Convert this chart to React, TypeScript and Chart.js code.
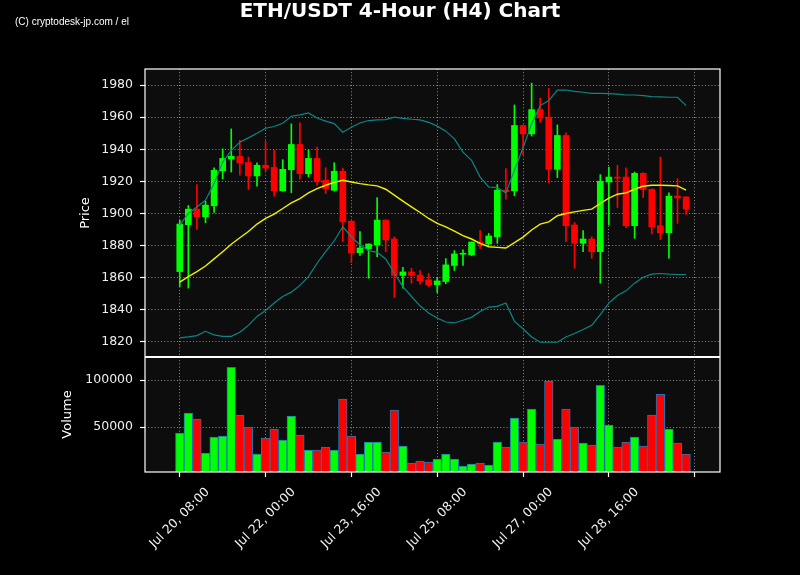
import { useEffect, useRef } from 'react';
import { Chart, registerables } from 'chart.js';

Chart.register(...registerables);

// ---- Data (4-hour candles, Jul 20 08:00 → Jul 30 04:00) ----
const opens = [
  1863.8, 1893.0, 1902.7, 1897.9, 1904.8, 1926.5, 1933.9, 1935.6, 1931.8, 1923.4,
  1930.0, 1928.7, 1914.1, 1927.3, 1943.0, 1924.8, 1934.3, 1920.7, 1914.5, 1926.3,
  1895.2, 1875.6, 1878.1, 1880.4, 1895.9, 1884.1, 1861.4, 1863.6, 1861.6, 1858.7,
  1855.6, 1857.6, 1867.6, 1874.6, 1874.2, 1882.2, 1881.0, 1885.5, 1914.5, 1914.1,
  1954.8, 1949.6, 1964.7, 1960.0, 1927.5, 1948.6, 1892.8, 1881.4, 1884.1, 1876.2,
  1919.6, 1922.5, 1922.7, 1892.4, 1925.0, 1915.1, 1892.4, 1888.0, 1910.8, 1910.3,
];
const highs = [
  1895.9, 1905.0, 1918.0, 1907.7, 1928.5, 1940.3, 1952.7, 1945.5, 1935.1, 1931.6,
  1944.9, 1939.3, 1933.5, 1955.8, 1956.4, 1939.7, 1941.3, 1928.5, 1931.6, 1928.3,
  1895.5, 1888.8, 1881.0, 1909.9, 1896.0, 1885.5, 1866.5, 1865.9, 1864.5, 1862.6,
  1860.3, 1871.9, 1876.9, 1877.3, 1882.3, 1889.3, 1887.6, 1918.0, 1927.9, 1967.6,
  1955.0, 1981.2, 1971.9, 1977.9, 1955.2, 1950.2, 1894.4, 1889.3, 1885.5, 1924.2,
  1928.9, 1930.0, 1928.5, 1925.8, 1925.4, 1915.3, 1935.1, 1912.8, 1921.7, 1910.5,
];
const lows = [
  1854.5, 1853.5, 1890.1, 1894.2, 1900.6, 1921.7, 1925.8, 1923.8, 1914.9, 1917.0,
  1926.3, 1910.8, 1913.8, 1913.0, 1921.3, 1922.7, 1917.6, 1912.4, 1913.9, 1882.4,
  1869.4, 1873.8, 1859.7, 1873.1, 1876.2, 1847.7, 1853.5, 1856.6, 1856.0, 1854.5,
  1850.8, 1856.2, 1864.5, 1867.6, 1873.8, 1878.3, 1880.2, 1881.4, 1908.9, 1911.0,
  1936.6, 1948.2, 1956.8, 1919.0, 1922.3, 1882.4, 1865.9, 1876.2, 1872.1, 1856.6,
  1892.8, 1903.7, 1891.1, 1884.5, 1909.9, 1887.2, 1883.9, 1872.1, 1893.8, 1899.4,
];
const closes = [
  1893.4, 1902.7, 1897.9, 1905.2, 1926.9, 1934.3, 1935.6, 1931.4, 1923.4, 1930.0,
  1928.3, 1914.1, 1927.5, 1943.0, 1924.8, 1934.3, 1920.3, 1915.5, 1926.3, 1894.8,
  1875.6, 1878.5, 1881.0, 1895.9, 1883.5, 1861.4, 1863.6, 1861.4, 1858.0, 1855.6,
  1858.0, 1868.0, 1874.8, 1875.2, 1882.2, 1881.0, 1886.0, 1914.5, 1913.5, 1954.8,
  1949.6, 1964.7, 1959.5, 1927.5, 1948.6, 1892.4, 1881.4, 1884.1, 1876.2, 1920.1,
  1922.7, 1922.0, 1892.4, 1925.0, 1914.9, 1891.7, 1888.0, 1910.8, 1909.7, 1902.7,
];
const volumes = [
  43620, 64900, 58500, 22300, 39400, 40400, 113800, 62800, 50000, 21300,
  38300, 47900, 36200, 61700, 41500, 25500, 25500, 28700, 25500, 79800,
  40400, 21300, 34000, 34000, 23400, 68100, 29800, 11700, 13800, 12800,
  16000, 21300, 16000, 8500, 10600, 11700, 9600, 34000, 28700, 59600,
  34000, 69200, 31900, 98900, 37200, 69200, 50000, 33000, 30900, 94700,
  52100, 28700, 34000, 39400, 29800, 62800, 85100, 47900, 33000, 21300,
];
const bbUpper = [
  1892.8, 1900.0, 1904.1, 1908.3, 1918.6, 1932.0, 1939.3, 1944.4, 1947.1, 1950.0,
  1953.1, 1954.2, 1956.2, 1960.6, 1961.4, 1962.6, 1959.5, 1957.5, 1956.0, 1950.6,
  1953.7, 1956.4, 1957.9, 1958.3, 1958.5, 1960.0, 1959.3, 1958.7, 1958.3, 1956.8,
  1954.4, 1951.3, 1946.5, 1938.2, 1933.1, 1922.7, 1916.5, 1916.1, 1912.8, 1926.9,
  1940.9, 1955.8, 1967.2, 1970.3, 1976.9, 1976.9, 1976.1, 1975.5, 1974.8, 1974.8,
  1974.6, 1974.4, 1973.8, 1973.8, 1973.4, 1972.8, 1972.6, 1972.4, 1972.4, 1967.2,
];
const bbMiddle = [
  1857.2, 1860.7, 1863.8, 1867.3, 1871.7, 1876.2, 1880.8, 1884.9, 1888.8, 1893.4,
  1896.9, 1899.6, 1903.1, 1906.6, 1909.3, 1912.8, 1915.5, 1917.6, 1919.4, 1920.7,
  1919.6, 1918.6, 1917.8, 1917.2, 1915.1, 1911.4, 1907.7, 1904.1, 1900.6, 1896.9,
  1893.8, 1891.7, 1889.0, 1886.2, 1884.1, 1881.4, 1879.3, 1878.9, 1878.5, 1881.8,
  1885.3, 1889.7, 1893.4, 1894.8, 1898.6, 1900.0, 1901.0, 1901.9, 1902.7, 1906.2,
  1909.5, 1912.0, 1912.8, 1915.1, 1917.0, 1917.6, 1917.6, 1917.4, 1917.2, 1914.5,
];
const bbLower = [
  1822.5, 1823.1, 1823.9, 1826.6, 1824.4, 1823.5, 1823.5, 1826.0, 1830.3, 1835.9,
  1839.6, 1844.2, 1848.3, 1851.0, 1855.2, 1860.7, 1869.0, 1876.2, 1883.0, 1891.7,
  1885.5, 1880.4, 1876.9, 1875.8, 1871.7, 1862.8, 1854.5, 1848.3, 1842.5, 1838.0,
  1834.9, 1832.4, 1831.8, 1833.5, 1835.3, 1839.0, 1841.7, 1842.1, 1844.2, 1832.8,
  1828.2, 1823.1, 1819.8, 1819.8, 1819.8, 1823.1, 1825.2, 1827.7, 1830.3, 1837.0,
  1844.2, 1848.9, 1851.8, 1856.6, 1860.3, 1862.2, 1862.6, 1862.2, 1862.0, 1862.0,
];

const xTickPositions = [0, 10, 20, 30, 40, 50, 60];
const xTickLabels = [
  'Jul 20, 08:00', 'Jul 22, 00:00', 'Jul 23, 16:00', 'Jul 25, 08:00',
  'Jul 27, 00:00', 'Jul 28, 16:00', '',
];
const priceTicks = [1820, 1840, 1860, 1880, 1900, 1920, 1940, 1960, 1980];
const volumeTicks = [50000, 100000];

// visible ranges of the two panels
const priceLow = 1810.6;
const priceHigh = 1990.0;
const volLow = 2130;
const volHigh = 124800;

const GREEN = '#00ff00';
const RED = '#ff0000';
const GRID = 'rgba(175,175,175,0.8)';
const TEXT = '#eeeeee';
const FONT = 'DejaVu Sans';

export default function App() {
  const ref = useRef<HTMLCanvasElement>(null);

  useEffect(() => {
    document.body.style.margin = '0';
    document.body.style.background = '#000';
    const canvas = ref.current;
    if (!canvas) return;

    const idx = opens.map((_, i) => i);
    const colors = idx.map((i) => (closes[i] >= opens[i] ? GREEN : RED));

    const decor = {
      id: 'decor',
      beforeDraw(chart: any) {
        const { ctx, chartArea: a } = chart;
        ctx.save();
        ctx.fillStyle = '#000000';
        ctx.fillRect(0, 0, chart.width, chart.height);
        ctx.fillStyle = '#0d0d0d';
        ctx.fillRect(a.left, a.top, a.right - a.left, a.bottom - a.top);
        ctx.restore();
      },
      afterDraw(chart: any) {
        const { ctx, chartArea: a } = chart;
        const yp = chart.scales.yp;
        const xs = chart.scales.x;
        const sepY = yp.bottom;
        ctx.save();
        // frame
        ctx.strokeStyle = '#ffffff';
        ctx.lineWidth = 1.2;
        ctx.strokeRect(a.left, a.top, a.right - a.left, a.bottom - a.top);
        ctx.lineWidth = 2;
        ctx.beginPath();
        ctx.moveTo(a.left, sepY);
        ctx.lineTo(a.right, sepY);
        ctx.stroke();

        // title
        ctx.fillStyle = '#ffffff';
        ctx.font = `bold 20px "${FONT}"`;
        ctx.textAlign = 'center';
        ctx.textBaseline = 'alphabetic';
        ctx.fillText('ETH/USDT 4-Hour (H4) Chart', 400, 17);

        // watermark
        ctx.font = '10px "Liberation Sans"';
        ctx.textAlign = 'left';
        ctx.fillText('(C) cryptodesk-jp.com / el', 15, 25);

        // axis titles
        ctx.font = `13px "${FONT}"`;
        ctx.textAlign = 'center';
        ctx.textBaseline = 'middle';
        ctx.save();
        ctx.translate(86, (a.top + sepY) / 2);
        ctx.rotate(-Math.PI / 2);
        ctx.fillText('Price', 0, 0);
        ctx.restore();
        ctx.save();
        ctx.translate(68, (sepY + a.bottom) / 2);
        ctx.rotate(-Math.PI / 2);
        ctx.fillText('Volume', 0, 0);
        ctx.restore();

        // x tick labels (rotated 45°, centred on tick)
        ctx.font = `12.5px "${FONT}"`;
        ctx.fillStyle = TEXT;
        xTickPositions.forEach((p, i) => {
          const label = xTickLabels[i];
          if (!label) return;
          const px = xs.getPixelForValue(p);
          const L = ctx.measureText(label).width;
          const h = 12.5 * 1.17;
          const W = (L + h) * Math.SQRT1_2;
          ctx.save();
          ctx.translate(px, a.bottom + 13 + W / 2);
          ctx.rotate(-Math.PI / 4);
          ctx.textAlign = 'center';
          ctx.textBaseline = 'middle';
          ctx.fillText(label, 0, 0);
          ctx.restore();
        });
        ctx.restore();
      },
    };

    const lineDs = (data: number[], color: string, width: number) => ({
      type: 'line' as const,
      data: idx.map((i) => ({ x: i, y: data[i] })),
      yAxisID: 'yp',
      borderColor: color,
      borderWidth: width,
      pointRadius: 0,
      tension: 0,
      fill: false,
      order: 0,
    });

    const yTickOpts = {
      autoSkip: false,
      color: TEXT,
      padding: 7,
      font: { family: FONT, size: 12.5 },
      callback: (v: any) => String(v),
    };
    const yGridOpts = {
      color: GRID,
      lineWidth: 1,
      tickLength: 5,
      tickColor: '#ffffff',
      tickWidth: 1.2,
    };

    const chart = new Chart(canvas, {
      type: 'bar',
      data: {
        datasets: [
          lineDs(bbUpper, '#0f8585', 1.2),
          lineDs(bbMiddle, '#f0f000', 1.4),
          lineDs(bbLower, '#0f8585', 1.2),
          {
            type: 'bar',
            data: idx.map((i) => ({ x: i, y: [opens[i], closes[i]] })) as any,
            yAxisID: 'yp',
            backgroundColor: colors,
            barThickness: 6,
            minBarLength: 1,
            grouped: false,
            order: 1,
          },
          {
            type: 'bar',
            data: idx.map((i) => ({ x: i, y: [lows[i], highs[i]] })) as any,
            yAxisID: 'yp',
            backgroundColor: colors,
            barThickness: 1,
            grouped: false,
            order: 2,
          },
          {
            type: 'bar',
            data: idx.map((i) => ({ x: i, y: volumes[i] })) as any,
            yAxisID: 'yv',
            backgroundColor: colors,
            borderColor: '#1f77b4',
            borderWidth: 1,
            borderSkipped: false,
            barThickness: 8.6,
            grouped: false,
            order: 3,
          },
        ] as any,
      },
      options: {
        responsive: false,
        animation: false,
        events: [],
        layout: { padding: { top: 69, left: 0, right: 80, bottom: 0 } },
        plugins: {
          legend: { display: false },
          tooltip: { enabled: false },
          title: { display: false },
        },
        scales: {
          x: {
            type: 'linear',
            min: -4.05,
            max: 62.95,
            offset: false,
            afterBuildTicks: (s: any) => {
              s.ticks = xTickPositions.map((v) => ({ value: v }));
            },
            afterFit: (s: any) => {
              s.height = 103;
            },
            ticks: { display: false, autoSkip: false },
            grid: {
              offset: false,
              color: GRID,
              lineWidth: 1,
              drawTicks: true,
              tickLength: 5,
              tickColor: '#ffffff',
              tickWidth: 1.2,
            },
            border: { display: false, dash: [1, 2.2] },
          },
          yp: {
            type: 'linear',
            position: 'left',
            stack: 'panels',
            stackWeight: 288,
            weight: 2,
            min: priceLow,
            max: priceHigh,
            afterBuildTicks: (s: any) => {
              s.ticks = priceTicks.map((v) => ({ value: v }));
            },
            afterFit: (s: any) => {
              s.width = 145;
            },
            ticks: yTickOpts,
            grid: yGridOpts,
            border: { display: false, dash: [1, 2.2] },
          },
          yv: {
            type: 'linear',
            position: 'left',
            stack: 'panels',
            stackWeight: 115,
            weight: 1,
            min: volLow,
            max: volHigh,
            afterBuildTicks: (s: any) => {
              s.ticks = volumeTicks.map((v) => ({ value: v }));
            },
            afterFit: (s: any) => {
              s.width = 145;
            },
            ticks: yTickOpts,
            grid: yGridOpts,
            border: { display: false, dash: [1, 2.2] },
          },
        },
      } as any,
      plugins: [decor],
    });

    return () => chart.destroy();
  }, []);

  return (
    <div style={{ position: 'fixed', left: 0, top: 0, width: 800, height: 575, background: '#000' }}>
      <canvas ref={ref} width={800} height={575} style={{ display: 'block' }} />
    </div>
  );
}
